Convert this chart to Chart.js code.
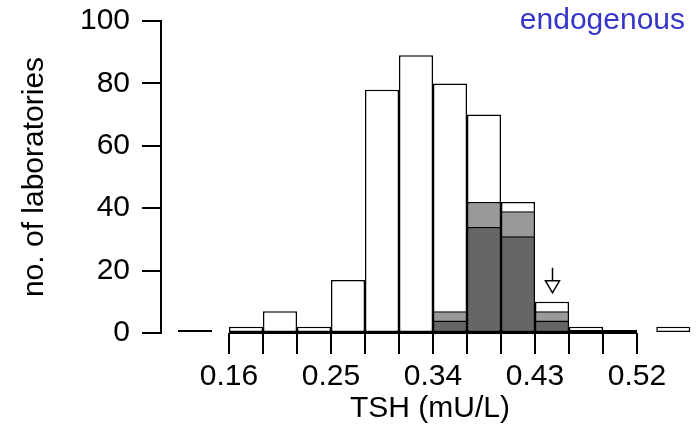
<!DOCTYPE html>
<html>
<head>
<meta charset="utf-8">
<script src="https://cdn.jsdelivr.net/npm/chart.js@4/dist/chart.umd.min.js"></script>
<style>
    html, body { margin: 0; padding: 0; background: #fff; }
    #wrap { width: 699px; height: 425px; }
</style>
</head>
<body>
<div id="wrap"><canvas id="histo"></canvas></div>
<script>
// bin centres (mU/L); first and last are the off-scale bins
const binCenters = [0.13, 0.175, 0.205, 0.235, 0.265, 0.295, 0.325, 0.355, 0.385, 0.415, 0.445, 0.475, 0.505, 0.552];
// all laboratories
const allLabs   = [1, 2, 7, 2, 17, 78, 89, 80, 70, 42, 10, 2, 1, 2];
// light grey subgroup
const lightLabs = [null, null, null, null, null, null, null, 7, 42, 39, 7, 1, null, null];
// dark grey subgroup
const darkLabs  = [null, null, null, null, null, null, null, 4, 34, 31, 4, null, null, null];

const binEdges = [0.16, 0.19, 0.22, 0.25, 0.28, 0.31, 0.34, 0.37, 0.40, 0.43, 0.46, 0.49, 0.52];
const xTickLabels = ['0.16', '0.25', '0.34', '0.43', '0.52'];
const yTicks = [0, 20, 40, 60, 80, 100];
const arrowAt = 0.445;

const FONT = "'Liberation Sans', Arial, sans-serif";

const toPoints = values => binCenters.map((x, i) => ({ x: x, y: values[i] }));

// baseline, arrow and the "endogenous" note
const extras = {
    id: 'extras',
    afterDatasetsDraw(chart) {
        const ctx = chart.ctx;
        const xs = chart.scales.x;
        const ys = chart.scales.y;
        const y0 = ys.getPixelForValue(0);

        ctx.save();
        ctx.strokeStyle = '#000';
        ctx.lineWidth = 2;
        ctx.beginPath();
        ctx.moveTo(xs.getPixelForValue(binEdges[0]), y0);
        ctx.lineTo(xs.getPixelForValue(binEdges[binEdges.length - 1]), y0);
        ctx.stroke();

        // arrow over the bin holding arrowAt
        const ax = Math.round(xs.getPixelForValue(arrowAt)) + 0.5;
        const idx = binCenters.indexOf(arrowAt);
        const tip = ys.getPixelForValue(allLabs[idx]) - 9;
        ctx.lineWidth = 1.5;
        ctx.beginPath();
        ctx.moveTo(ax, tip - 25);
        ctx.lineTo(ax, tip - 12);
        ctx.stroke();
        ctx.beginPath();
        ctx.moveTo(ax - 7, tip - 12);
        ctx.lineTo(ax + 7, tip - 12);
        ctx.lineTo(ax, tip);
        ctx.closePath();
        ctx.fillStyle = '#fff';
        ctx.fill();
        ctx.stroke();

        ctx.fillStyle = '#3535c8';
        ctx.font = '30px ' + FONT;
        ctx.textAlign = 'right';
        ctx.textBaseline = 'middle';
        ctx.fillText('endogenous', chart.chartArea.right - 14, ys.getPixelForValue(100));
        ctx.restore();
    }
};

const barStyle = {
    borderColor: '#000',
    borderWidth: 1.5,
    borderSkipped: false,
    inflateAmount: 0,
    barPercentage: 1,
    categoryPercentage: 1,
    grouped: false
};

new Chart(document.getElementById('histo'), {
    type: 'bar',
    data: {
        datasets: [
            Object.assign({ label: 'dark', data: toPoints(darkLabs), backgroundColor: '#666666' }, barStyle),
            Object.assign({ label: 'light', data: toPoints(lightLabs), backgroundColor: '#999999' }, barStyle),
            Object.assign({ label: 'all', data: toPoints(allLabs), backgroundColor: '#ffffff' }, barStyle)
        ]
    },
    options: {
        responsive: true,
        maintainAspectRatio: false,
        animation: false,
        layout: { padding: { top: 21, right: 0, bottom: 0, left: 0 } },
        plugins: { legend: { display: false }, tooltip: { enabled: false } },
        scales: {
            x: {
                type: 'linear',
                offset: false,
                min: 0.10,
                max: 0.5747,
                afterBuildTicks: scale => { scale.ticks = binEdges.map(v => ({ value: v })); },
                afterFit: scale => {
                    scale.height = 92;
                    scale.paddingLeft = 0;
                    scale.paddingRight = 0;
                },
                border: { display: false },
                grid: { offset: false, drawOnChartArea: false, drawTicks: true, tickLength: 21, color: '#000', lineWidth: 2 },
                ticks: {
                    autoSkip: false,
                    maxRotation: 0,
                    padding: 5,
                    color: '#000',
                    font: { family: FONT, size: 30 },
                    callback: value => {
                        const hit = xTickLabels.find(t => Math.abs(parseFloat(t) - value) < 1e-6);
                        return hit || '';
                    }
                },
                title: {
                    display: true,
                    text: 'TSH (mU/L)',
                    color: '#000',
                    font: { family: FONT, size: 30 },
                    padding: { top: 0, bottom: -2 }
                }
            },
            y: {
                min: 0,
                max: 100,
                afterBuildTicks: scale => { scale.ticks = yTicks.map(v => ({ value: v })); },
                afterFit: scale => {
                    scale.width = 161;
                    scale.paddingTop = 0;
                    scale.paddingBottom = 0;
                },
                border: { display: true, color: '#000', width: 2 },
                grid: { drawOnChartArea: false, drawTicks: true, tickLength: 19, color: '#000', lineWidth: 2 },
                ticks: {
                    padding: 12,
                    color: '#000',
                    font: { family: FONT, size: 30 }
                },
                title: {
                    display: true,
                    text: 'no. of laboratories',
                    color: '#000',
                    font: { family: FONT, size: 30 },
                    padding: 17
                }
            }
        }
    },
    plugins: [extras]
});
</script>
</body>
</html>
